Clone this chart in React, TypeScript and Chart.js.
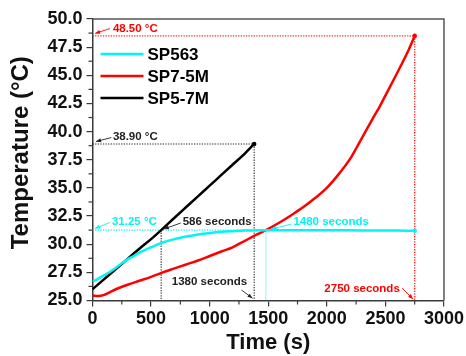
import React, { useEffect, useRef } from 'react';
import { Chart, registerables } from 'chart.js';

Chart.register(...registerables);

// ---------- data ----------
const seriesNames = ['SP563', 'SP7-5M', 'SP5-7M'];
const seriesColors = ['#00F5F5', '#FF0000', '#000000'];

const sp563Time = [0, 50, 100, 150, 200, 250, 300, 350, 400, 450, 500, 586, 700, 800, 900, 1000, 1100, 1200, 1300, 1480, 1700, 2000, 2300, 2600, 2750];
const sp563Temp = [26.67, 26.95, 27.25, 27.55, 27.9, 28.3, 28.65, 28.95, 29.25, 29.5, 29.72, 30.1, 30.45, 30.68, 30.87, 31.0, 31.1, 31.16, 31.21, 31.25, 31.25, 31.24, 31.22, 31.21, 31.2];

const sp75mTime = [0, 50, 100, 150, 200, 300, 400, 500, 600, 700, 800, 900, 1000, 1100, 1200, 1300, 1400, 1480, 1600, 1700, 1800, 1900, 2000, 2100, 2200, 2250, 2300, 2400, 2450, 2500, 2600, 2700, 2750];
const sp75mTemp = [25.43, 25.4, 25.5, 25.75, 26.0, 26.4, 26.75, 27.1, 27.5, 27.85, 28.2, 28.55, 28.95, 29.35, 29.75, 30.3, 30.85, 31.25, 31.95, 32.6, 33.3, 34.1, 35.0, 36.2, 37.6, 38.5, 39.45, 41.3, 42.2, 43.2, 45.2, 47.3, 48.5];

const sp57mTime = [0, 100, 200, 300, 400, 500, 586, 700, 800, 900, 1000, 1100, 1200, 1300, 1380];
const sp57mTemp = [26.0, 26.9, 27.8, 28.7, 29.6, 30.45, 31.25, 32.35, 33.3, 34.25, 35.2, 36.15, 37.1, 38.05, 38.9];

const xMin = 0, xMax = 3000, xStep = 500;
const yMin = 25, yMax = 50, yStep = 2.5;
const yTitle = 'Temperature (°C)';
const xTitle = 'Time (s)';

// guide lines (data units)
const guideX0 = [0, 2750, 0, 1380, 586, 0, 1480];
const guideY0 = [48.5, 48.5, 38.9, 38.9, 31.25, 31.25, 31.25];
const guideX1 = [2750, 2750, 1380, 1380, 586, 1480, 1480];
const guideY1 = [48.5, 25, 38.9, 25, 25, 31.25, 25];
const guideSeries = [1, 1, 2, 2, 2, 0, 0];

// callout labels (data units): text, text-left x, text-center y, arrow start, arrow tip
const calloutText = ['48.50 °C', '38.90 °C', '31.25 °C', '586 seconds', '1380 seconds', '1480 seconds', '2750 seconds'];
const calloutSeries = [1, 2, 0, 2, 2, 0, 1];
const calloutX = [174, 174, 166, 770, 677, 1715, 1979];
const calloutY = [49.17, 39.55, 32.03, 32.03, 26.67, 31.97, 26.0];
const arrowFromX = [149, 160, 149, 753, 1272, 1698, 2643];
const arrowFromY = [49.15, 39.47, 31.93, 31.88, 25.93, 31.79, 26.1];
const arrowToX = [22, 30, 21, 609, 1366, 1528, 2736];
const arrowToY = [48.72, 39.12, 31.39, 31.35, 25.2, 31.35, 25.13];

const FONT = "'Liberation Sans', Arial, Helvetica, sans-serif";
const AXIS_COLOR = '#3a3a3a';

function toPoints(t: number[], v: number[]) {
  return t.map((x, i) => ({ x, y: v[i] }));
}

const overlayPlugin = {
  id: 'overlay',
  beforeDatasetsDraw(chart: any) {
    const { ctx } = chart;
    const xs = chart.scales.x;
    const ys = chart.scales.y;
    ctx.save();
    for (let i = 0; i < guideX0.length; i++) {
      const s = guideSeries[i];
      const isCyanVertical = s === 0 && guideX0[i] === guideX1[i];
      ctx.strokeStyle = s === 0 ? (isCyanVertical ? 'rgba(0,235,235,0.6)' : 'rgba(0,235,235,0.9)') : s === 1 ? 'rgba(255,0,0,0.85)' : 'rgba(0,0,0,0.85)';
      ctx.lineWidth = s === 1 ? 1.4 : isCyanVertical ? 0.8 : 1.1;
      ctx.setLineDash(isCyanVertical ? [] : [1.3, 1.3]);
      ctx.beginPath();
      ctx.moveTo(xs.getPixelForValue(guideX0[i]), ys.getPixelForValue(guideY0[i]));
      ctx.lineTo(xs.getPixelForValue(guideX1[i]), ys.getPixelForValue(guideY1[i]));
      ctx.stroke();
    }
    ctx.restore();
  },
  afterDatasetsDraw(chart: any) {
    const { ctx, chartArea } = chart;
    const xs = chart.scales.x;
    const ys = chart.scales.y;
    ctx.save();
    ctx.setLineDash([]);
    // frame top and right
    ctx.strokeStyle = '#555';
    ctx.lineWidth = 1.5;
    ctx.beginPath();
    ctx.moveTo(chartArea.left, chartArea.top);
    ctx.lineTo(chartArea.right, chartArea.top);
    ctx.lineTo(chartArea.right, chartArea.bottom);
    ctx.stroke();

    // callouts
    ctx.font = `bold 11.5px ${FONT}`;
    ctx.textBaseline = 'middle';
    ctx.textAlign = 'left';
    for (let i = 0; i < calloutText.length; i++) {
      const col = seriesColors[calloutSeries[i]];
      const darker = calloutSeries[i] === 2 ? '#222' : col;
      ctx.fillStyle = darker;
      ctx.fillText(calloutText[i], xs.getPixelForValue(calloutX[i]), ys.getPixelForValue(calloutY[i]));
      const fx = xs.getPixelForValue(arrowFromX[i]);
      const fy = ys.getPixelForValue(arrowFromY[i]);
      const tx = xs.getPixelForValue(arrowToX[i]);
      const ty = ys.getPixelForValue(arrowToY[i]);
      ctx.strokeStyle = darker;
      ctx.lineWidth = 0.9;
      ctx.beginPath();
      ctx.moveTo(fx, fy);
      ctx.lineTo(tx, ty);
      ctx.stroke();
      const ang = Math.atan2(ty - fy, tx - fx);
      const L = 5, W = 2;
      ctx.beginPath();
      ctx.moveTo(tx, ty);
      ctx.lineTo(tx - L * Math.cos(ang) + W * Math.sin(ang), ty - L * Math.sin(ang) - W * Math.cos(ang));
      ctx.lineTo(tx - L * Math.cos(ang) - W * Math.sin(ang), ty - L * Math.sin(ang) + W * Math.cos(ang));
      ctx.closePath();
      ctx.fill();
    }

    // legend
    ctx.font = `bold 17px ${FONT}`;
    ctx.textBaseline = 'middle';
    const lx0 = chartArea.left + 8;
    const lx1 = chartArea.left + 51;
    const ly0 = chartArea.top + 35;
    const lgap = 22;
    chart.data.datasets.forEach((ds: any, i: number) => {
      const yy = ly0 + i * lgap;
      ctx.strokeStyle = ds.borderColor;
      ctx.lineWidth = 2.5;
      ctx.beginPath();
      ctx.moveTo(lx0, yy);
      ctx.lineTo(lx1, yy);
      ctx.stroke();
      ctx.fillStyle = '#000';
      ctx.fillText(ds.label, lx1 + 4, yy + 1);
    });

    // minor ticks
    ctx.strokeStyle = AXIS_COLOR;
    ctx.lineWidth = 1.2;
    for (let v = xMin + xStep / 2; v < xMax; v += xStep) {
      const px = xs.getPixelForValue(v);
      ctx.beginPath();
      ctx.moveTo(px, chartArea.bottom);
      ctx.lineTo(px, chartArea.bottom + 4);
      ctx.stroke();
    }
    for (let v = yMin + yStep / 2; v < yMax; v += yStep) {
      const py = ys.getPixelForValue(v);
      ctx.beginPath();
      ctx.moveTo(chartArea.left, py);
      ctx.lineTo(chartArea.left - 4, py);
      ctx.stroke();
    }

    // y-axis title
    ctx.save();
    ctx.translate(21.5, chartArea.top + (chartArea.bottom - chartArea.top) / 2 - 7);
    ctx.rotate(-Math.PI / 2);
    ctx.font = `bold 24px ${FONT}`;
    ctx.textAlign = 'center';
    ctx.textBaseline = 'middle';
    ctx.fillStyle = '#111';
    ctx.fillText(yTitle, 0, 0);
    ctx.restore();

    ctx.restore();
  },
};

export default function App() {
  const ref = useRef<HTMLCanvasElement | null>(null);
  useEffect(() => {
    if (!ref.current) return;
    const times = [sp563Time, sp75mTime, sp57mTime];
    const temps = [sp563Temp, sp75mTemp, sp57mTemp];
    const chart = new Chart(ref.current, {
      type: 'line',
      data: {
        datasets: seriesNames.map((name, i) => ({
          label: name,
          data: toPoints(times[i], temps[i]),
          borderColor: seriesColors[i],
          backgroundColor: seriesColors[i],
          borderWidth: 2.5,
          cubicInterpolationMode: 'monotone' as const,
          pointRadius: (c: any) => (c.dataIndex === times[i].length - 1 ? 2.3 : 0),
          pointBorderWidth: 0,
          pointHoverRadius: 0,
        })),
      },
      options: {
        animation: false,
        responsive: false,
        events: [],
        layout: { padding: { top: 19, right: 21, left: 0, bottom: 0 } },
        plugins: { legend: { display: false }, tooltip: { enabled: false } },
        scales: {
          x: {
            type: 'linear',
            min: xMin,
            max: xMax,
            afterFit: (s: any) => { s.height = 55.5; },
            ticks: {
              stepSize: xStep,
              color: '#111',
              padding: 2,
              maxRotation: 0,
              callback: (v: any) => String(v),
              font: { family: FONT, size: 18, weight: 'bold' },
            },
            grid: { drawOnChartArea: false, drawTicks: true, tickLength: 6, color: AXIS_COLOR, lineWidth: 1.2 },
            border: { display: true, color: AXIS_COLOR, width: 1.5 },
            title: {
              display: true,
              text: xTitle,
              color: '#111',
              padding: { top: 0, bottom: 0 },
              font: { family: FONT, size: 22, weight: 'bold' },
            },
          },
          y: {
            type: 'linear',
            min: yMin,
            max: yMax,
            afterFit: (s: any) => { s.width = 92.5; },
            ticks: {
              stepSize: yStep,
              color: '#111',
              padding: 4,
              callback: (v: any) => Number(v).toFixed(1),
              font: { family: FONT, size: 18, weight: 'bold' },
            },
            grid: { drawOnChartArea: false, drawTicks: true, tickLength: 6, color: AXIS_COLOR, lineWidth: 1.2 },
            border: { display: true, color: AXIS_COLOR, width: 1.5 },
            title: { display: false },
          },
        },
      },
      plugins: [overlayPlugin],
    } as any);
    return () => chart.destroy();
  }, []);
  return (
    <div style={{ position: 'absolute', left: 0, top: 0, width: 466, height: 356, background: '#fff' }}>
      <canvas ref={ref} width={466} height={356} />
    </div>
  );
}
